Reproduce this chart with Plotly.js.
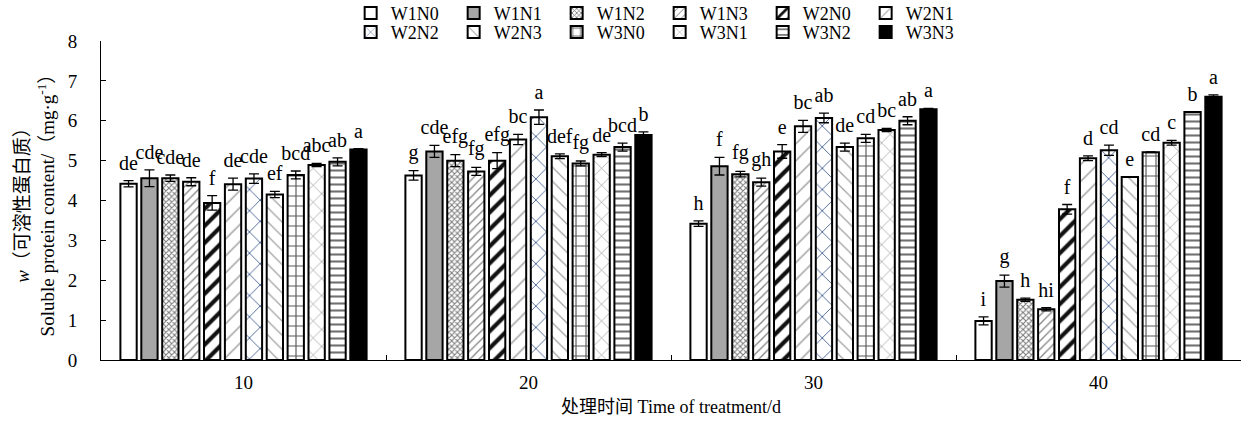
<!DOCTYPE html>
<html>
<head>
<meta charset="utf-8">
<script src="https://cdn.plot.ly/plotly-3.0.1.min.js"></script>
<style>html,body{margin:0;padding:0;background:#fff}#chart{width:1246px;height:426px}</style>
</head>
<body>
<div id="chart"></div>
<script>
const categories = ['10', '20', '30', '40'];
const seriesNames = ['W1N0','W1N1','W1N2','W1N3','W2N0','W2N1','W2N2','W2N3','W3N0','W3N1','W3N2','W3N3'];

// means (mg/g)
const W1N0 = [4.42, 4.63, 3.42, 0.98];
const W1N1 = [4.56, 5.23, 4.86, 1.98];
const W1N2 = [4.56, 5.00, 4.66, 1.51];
const W1N3 = [4.47, 4.73, 4.46, 1.27];
const W2N0 = [3.94, 5.00, 5.23, 3.78];
const W2N1 = [4.41, 5.53, 5.86, 5.06];
const W2N2 = [4.55, 6.09, 6.07, 5.26];
const W2N3 = [4.15, 5.11, 5.34, 4.59];
const W3N0 = [4.64, 4.93, 5.56, 5.21];
const W3N1 = [4.89, 5.15, 5.77, 5.45];
const W3N2 = [4.97, 5.34, 6.00, 6.22];
const W3N3 = [5.28, 5.64, 6.29, 6.60];

// standard errors
const W1N0_err = [0.08, 0.12, 0.07, 0.10];
const W1N1_err = [0.21, 0.15, 0.22, 0.15];
const W1N2_err = [0.08, 0.15, 0.07, 0.04];
const W1N3_err = [0.10, 0.10, 0.10, 0.04];
const W2N0_err = [0.18, 0.20, 0.17, 0.12];
const W2N1_err = [0.15, 0.13, 0.15, 0.06];
const W2N2_err = [0.12, 0.18, 0.12, 0.13];
const W2N3_err = [0.08, 0.06, 0.10, 0.01];
const W3N0_err = [0.10, 0.06, 0.10, 0.01];
const W3N1_err = [0.04, 0.05, 0.04, 0.06];
const W3N2_err = [0.10, 0.10, 0.10, 0.01];
const W3N3_err = [0.02, 0.08, 0.02, 0.05];

// significance letters
const W1N0_sig = ['de', 'g', 'h', 'i'];
const W1N1_sig = ['cde', 'cde', 'f', 'g'];
const W1N2_sig = ['cde', 'efg', 'fg', 'h'];
const W1N3_sig = ['de', 'fg', 'gh', 'hi'];
const W2N0_sig = ['f', 'efg', 'e', 'f'];
const W2N1_sig = ['de', 'bc', 'bc', 'd'];
const W2N2_sig = ['cde', 'a', 'ab', 'cd'];
const W2N3_sig = ['ef', 'def', 'de', 'e'];
const W3N0_sig = ['bcd', 'fg', 'cd', 'cd'];
const W3N1_sig = ['abc', 'de', 'bc', 'c'];
const W3N2_sig = ['ab', 'bcd', 'ab', 'b'];
const W3N3_sig = ['a', 'b', 'a', 'a'];

const values = [W1N0,W1N1,W1N2,W1N3,W2N0,W2N1,W2N2,W2N3,W3N0,W3N1,W3N2,W3N3];
const errors = [W1N0_err,W1N1_err,W1N2_err,W1N3_err,W2N0_err,W2N1_err,W2N2_err,W2N3_err,W3N0_err,W3N1_err,W3N2_err,W3N3_err];
const letters = [W1N0_sig,W1N1_sig,W1N2_sig,W1N3_sig,W2N0_sig,W2N1_sig,W2N2_sig,W2N3_sig,W3N0_sig,W3N1_sig,W3N2_sig,W3N3_sig];

const styles = [
  {color:'#ffffff', pattern:{shape:''}},
  {color:'#a6a6a6', pattern:{shape:''}},
  {color:'#ffffff', pattern:{shape:'x', fgcolor:'#7a7a7a', bgcolor:'#ffffff', size:4, solidity:0.45}},
  {color:'#ffffff', pattern:{shape:'/', fgcolor:'#808080', bgcolor:'#ffffff', size:6, solidity:0.2}},
  {color:'#ffffff', pattern:{shape:'/', fgcolor:'#111111', bgcolor:'#ffffff', size:12, solidity:0.35}},
  {color:'#ffffff', pattern:{shape:'/', fgcolor:'#a0a0a0', bgcolor:'#ffffff', size:12, solidity:0.12}},
  {color:'#ffffff', pattern:{shape:'x', fgcolor:'#26457e', bgcolor:'#ffffff', size:15, solidity:0.1}},
  {color:'#ffffff', pattern:{shape:'\\', fgcolor:'#a0a0a0', bgcolor:'#ffffff', size:10, solidity:0.12}},
  {color:'#ffffff', pattern:{shape:'+', fgcolor:'#5a5a5a', bgcolor:'#ffffff', size:10, solidity:0.22}},
  {color:'#ffffff', pattern:{shape:'x', fgcolor:'#8c8c8c', bgcolor:'#ffffff', size:12, solidity:0.1}},
  {color:'#ffffff', pattern:{shape:'-', fgcolor:'#707070', bgcolor:'#ffffff', size:7, solidity:0.3}},
  {color:'#000000', pattern:{shape:''}}
];

const FONT = 'Liberation Serif, Times New Roman, Noto Sans CJK SC, serif';
const labelPad = 0.1; // gap between error-bar cap and letter, in axis units

const traces = [];
seriesNames.forEach((name, i) => {
  traces.push({
    type:'bar', name:name, x:categories, y:values[i],
    offsetgroup:name, legend: i < 6 ? 'legend' : 'legend2',
    marker:{color:styles[i].color, pattern:styles[i].pattern, line:{color:'#000', width:2}},
    error_y:{type:'data', array:errors[i], visible:true, color:'#000', thickness:1.3, width:5}
  });
});
seriesNames.forEach((name, i) => {
  traces.push({
    type:'bar', name:name + ' sig', x:categories,
    base:values[i].map((v, j) => v + errors[i][j]),
    y:categories.map(() => labelPad),
    offsetgroup:name, showlegend:false, hoverinfo:'skip',
    marker:{color:'rgba(0,0,0,0)', line:{width:0}},
    text:letters[i], textposition:'outside', textangle:0, constraintext:'none', cliponaxis:false,
    textfont:{family:FONT, size:20, color:'#000'}
  });
});

const legendCommon = {orientation:'h', xanchor:'left', yanchor:'middle',
  font:{family:FONT, size:18, color:'#000'}, entrywidth:58, itemwidth:30, tracegroupgap:0, bgcolor:'rgba(0,0,0,0)'};

const layout = {
  width:1246, height:426,
  margin:{l:101, r:5, t:41, b:66, autoexpand:false},
  paper_bgcolor:'#fff', plot_bgcolor:'#fff',
  font:{family:FONT, size:17, color:'#000'},
  barmode:'group', bargap:0.12, bargroupgap:0.22,
  showlegend:true,
  legend:Object.assign({}, legendCommon, {x:0.219, y:1.087}),
  legend2:Object.assign({}, legendCommon, {x:0.219, y:1.027}),
  xaxis:{type:'category', showline:true, linecolor:'#000', linewidth:1, ticks:'inside', ticklen:5, tickcolor:'#000',
         tickson:'boundaries', showgrid:false, zeroline:false, ticklabelstandoff:5,
         tickfont:{family:FONT, size:19, color:'#000'},
         title:{text:'处理时间 Time of treatment/d', font:{family:FONT, size:18, color:'#000'}, standoff:8}},
  yaxis:{range:[0,8], dtick:1, showline:true, linecolor:'#000', linewidth:1, ticks:'inside', ticklen:5, tickcolor:'#000',
         showgrid:false, zeroline:false, ticklabelstandoff:19,
         tickfont:{family:FONT, size:19, color:'#000'},
         title:{text:'<i>w</i>（可溶性蛋白质）<br>Soluble protein content/（mg·g<sup>-1</sup>）', font:{family:FONT, size:19, color:'#000'}, standoff:8}}
};

Plotly.newPlot('chart', traces, layout, {displayModeBar:false, staticPlot:true});
</script>
</body>
</html>
